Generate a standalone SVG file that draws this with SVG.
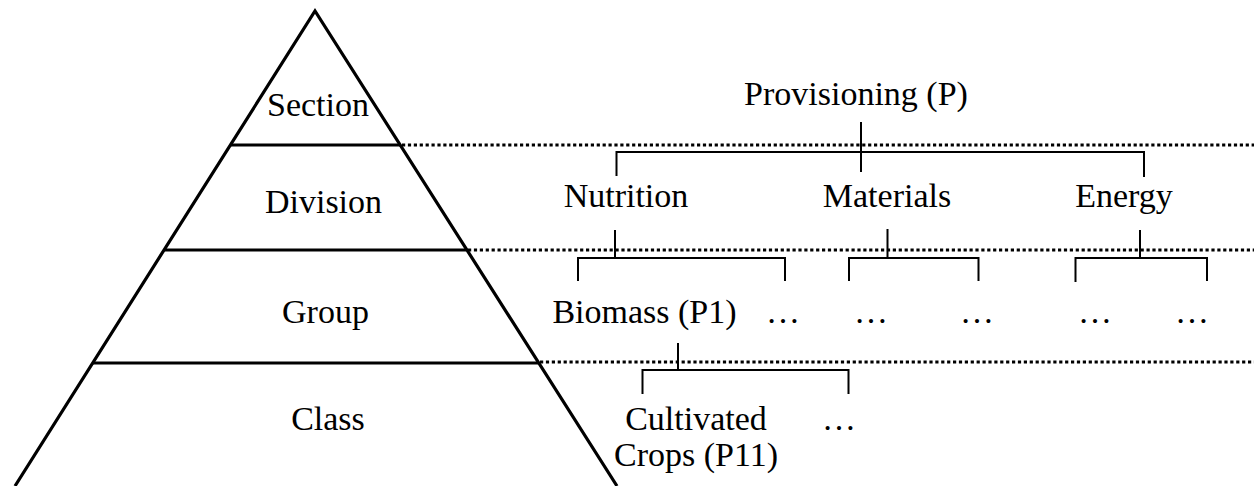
<svg xmlns="http://www.w3.org/2000/svg" width="1254" height="486" viewBox="0 0 1254 486">
<style>
text{font-family:"Liberation Serif","Times New Roman",serif;font-size:34px;fill:#000;text-anchor:middle}
.pyr{fill:none;stroke:#000;stroke-width:3.2;stroke-linejoin:miter}
.lvl{stroke:#000;stroke-width:3.2}
.dot{stroke:#000;stroke-width:3.2;stroke-dasharray:3.2 2.7;fill:none}
.con{stroke:#000;stroke-width:2;fill:none}
</style>
<rect width="1254" height="486" fill="#fff"/>
<g id="pyramid">
<polyline class="pyr" points="15,486 315,11 617,486"/>
<line class="lvl" x1="230.5" y1="145" x2="400" y2="145"/>
<line class="lvl" x1="164.5" y1="250" x2="466" y2="250"/>
<line class="lvl" x1="93" y1="363" x2="538" y2="363"/>
<text x="318" y="116">Section</text>
<text x="323.5" y="213">Division</text>
<text x="325.5" y="323">Group</text>
<text x="328" y="430">Class</text>
</g>
<g id="level-lines">
<line class="dot" x1="402" y1="145" x2="1254" y2="145"/>
<line class="dot" x1="468" y1="250" x2="1254" y2="250"/>
<line class="dot" x1="540" y1="362" x2="1254" y2="362"/>
</g>
<g id="connectors">
<path class="con" d="M861,122 V172 M616.5,176 V152 H1144 V177"/>
<path class="con" d="M615,230 V258 M578,281 V258 H785 V281"/>
<path class="con" d="M887.5,229 V258 M849,281 V258 H978.5 V281"/>
<path class="con" d="M1140,230 V258 M1075.5,282 V258 H1207 V281"/>
<path class="con" d="M678,343 V370 M642.5,394 V370 H848.5 V394"/>
</g>
<g id="node-provisioning"><text x="856" y="105">Provisioning (P)</text></g>
<g id="node-nutrition"><text x="626" y="207">Nutrition</text></g>
<g id="node-materials"><text x="887" y="207">Materials</text></g>
<g id="node-energy"><text x="1124" y="207">Energy</text></g>
<g id="node-biomass"><text x="644.5" y="323">Biomass (P1)</text></g>
<g id="node-nutrition-more"><text x="783" y="323">…</text></g>
<g id="node-materials-1"><text x="871" y="323">…</text></g>
<g id="node-materials-2"><text x="977" y="323">…</text></g>
<g id="node-energy-1"><text x="1095" y="323">…</text></g>
<g id="node-energy-2"><text x="1192" y="323">…</text></g>
<g id="node-cultivated"><text x="696" y="430">Cultivated</text><text x="696" y="466">Crops (P11)</text></g>
<g id="node-biomass-more"><text x="839" y="430">…</text></g>
</svg>
